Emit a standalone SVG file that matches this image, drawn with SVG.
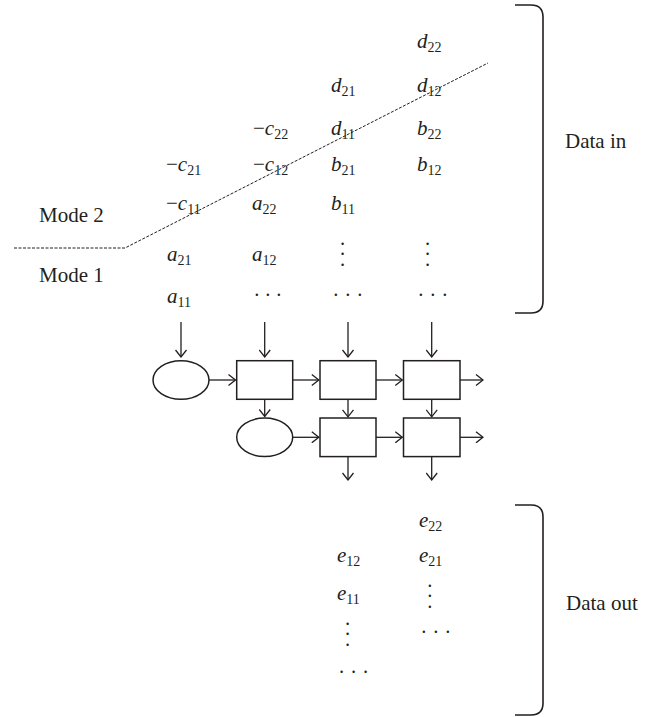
<svg xmlns="http://www.w3.org/2000/svg" width="656" height="717" viewBox="0 0 656 717">
<style>
text{font-family:"Liberation Serif","Times New Roman",serif;fill:#231f20}
.lbl{font-size:21px}
.v{font-size:21px}
.i{font-style:italic}
.s{font-size:14px}
.dot{font-size:20px}
.node{fill:#fff;stroke:#231f20;stroke-width:1.5}
.arr{fill:none;stroke:#231f20;stroke-width:1.3;marker-end:url(#ah)}
.dash{fill:none;stroke:#231f20;stroke-width:1;stroke-dasharray:3 1.5}
.br{fill:none;stroke:#231f20;stroke-width:1.6}
</style>
<defs>
<marker id="ah" markerUnits="userSpaceOnUse" viewBox="-9 -6 10 12" refX="0" refY="0" markerWidth="10" markerHeight="12" orient="auto">
<path d="M-7,-5.5 L0,0 L-7,5.5" fill="none" stroke="#231f20" stroke-width="1.3"/>
</marker>
</defs>

<g id="mode-line">
<path class="dash" d="M14,248 L125,248 L488,63"/>
<text class="lbl" x="39" y="222">Mode 2</text>
<text class="lbl" x="39" y="282">Mode 1</text>
</g>

<g id="data-in">
<path class="br" d="M515,5 H531 Q543,5 543,17 V301 Q543,313 531,313 H515"/>
<text class="lbl" x="565" y="148">Data in</text>
<text class="v" x="417" y="48"><tspan class="i">d</tspan><tspan class="s" dy="4">22</tspan></text>
<text class="v" x="331" y="92"><tspan class="i">d</tspan><tspan class="s" dy="4">21</tspan></text>
<text class="v" x="417" y="92"><tspan class="i">d</tspan><tspan class="s" dy="4">12</tspan></text>
<text class="v" x="253" y="135">−<tspan class="i">c</tspan><tspan class="s" dy="4">22</tspan></text>
<text class="v" x="331" y="135"><tspan class="i">d</tspan><tspan class="s" dy="4">11</tspan></text>
<text class="v" x="417" y="135"><tspan class="i">b</tspan><tspan class="s" dy="4">22</tspan></text>
<text class="v" x="166" y="171">−<tspan class="i">c</tspan><tspan class="s" dy="4">21</tspan></text>
<text class="v" x="253" y="171">−<tspan class="i">c</tspan><tspan class="s" dy="4">12</tspan></text>
<text class="v" x="331" y="171"><tspan class="i">b</tspan><tspan class="s" dy="4">21</tspan></text>
<text class="v" x="417" y="171"><tspan class="i">b</tspan><tspan class="s" dy="4">12</tspan></text>
<text class="v" x="166" y="210">−<tspan class="i">c</tspan><tspan class="s" dy="4">11</tspan></text>
<text class="v" x="252" y="210"><tspan class="i">a</tspan><tspan class="s" dy="4">22</tspan></text>
<text class="v" x="331" y="210"><tspan class="i">b</tspan><tspan class="s" dy="4">11</tspan></text>
<text class="v" x="167" y="261"><tspan class="i">a</tspan><tspan class="s" dy="4">21</tspan></text>
<text class="v" x="252" y="261"><tspan class="i">a</tspan><tspan class="s" dy="4">12</tspan></text>
<text class="v" x="167" y="303"><tspan class="i">a</tspan><tspan class="s" dy="4">11</tspan></text>
<text class="dot" x="339.2 339.2 339.2" y="250.5 261 271.5">···</text>
<text class="dot" x="424.2 424.2 424.2" y="250.5 261 271.5">···</text>
<text class="dot" x="253.5 264.5 275.5" y="301.5">···</text>
<text class="dot" x="332.5 344.5 356.5" y="301.5">···</text>
<text class="dot" x="417.5 429.5 441.5" y="301.5">···</text>
</g>

<g id="pe-row1">
<ellipse id="n-e1" class="node" cx="181" cy="380" rx="28" ry="19.3"/>
<rect id="n-b1" class="node" x="236.7" y="360.7" width="56" height="38.6"/>
<rect id="n-b2" class="node" x="320" y="360.7" width="56" height="38.6"/>
<rect id="n-b3" class="node" x="403.5" y="360.7" width="56.5" height="38.6"/>
</g>
<g id="pe-row2">
<ellipse id="n-e2" class="node" cx="264.7" cy="437.3" rx="28" ry="19.3"/>
<rect id="n-b4" class="node" x="320" y="418" width="56" height="38.6"/>
<rect id="n-b5" class="node" x="403.5" y="418" width="56.5" height="38.6"/>
</g>

<g id="connectors">
<path class="arr" d="M181,322 V357"/>
<path class="arr" d="M264.7,322 V357"/>
<path class="arr" d="M348,322 V357"/>
<path class="arr" d="M431.7,322 V357"/>
<path class="arr" d="M209,380 H235.5"/>
<path class="arr" d="M292.7,380 H318.8"/>
<path class="arr" d="M376,380 H402.3"/>
<path class="arr" d="M460,380 H483"/>
<path class="arr" d="M264.7,399.3 V416.5"/>
<path class="arr" d="M348,399.3 V416.8"/>
<path class="arr" d="M431.7,399.3 V416.8"/>
<path class="arr" d="M292.7,437.3 H318.8"/>
<path class="arr" d="M376,437.3 H402.3"/>
<path class="arr" d="M460,437.3 H483"/>
<path class="arr" d="M348,456.6 V480"/>
<path class="arr" d="M431.7,456.6 V480"/>
</g>

<g id="data-out">
<path class="br" d="M515,505 H531 Q543,505 543,517 V703 Q543,715 531,715 H515"/>
<text class="lbl" x="566" y="610">Data out</text>
<text class="v" x="419" y="527"><tspan class="i">e</tspan><tspan class="s" dy="4">22</tspan></text>
<text class="v" x="337" y="562"><tspan class="i">e</tspan><tspan class="s" dy="4">12</tspan></text>
<text class="v" x="419" y="562"><tspan class="i">e</tspan><tspan class="s" dy="4">21</tspan></text>
<text class="v" x="337" y="600"><tspan class="i">e</tspan><tspan class="s" dy="4">11</tspan></text>
<text class="dot" x="344.2 344.2 344.2" y="630.5 641 651.5">···</text>
<text class="dot" x="338.2 350.2 362.2" y="678.5">···</text>
<text class="dot" x="426.5 426.5 426.5" y="592.5 603 613.5">···</text>
<text class="dot" x="420.5 432.5 444.5" y="638.5">···</text>
</g>
</svg>
